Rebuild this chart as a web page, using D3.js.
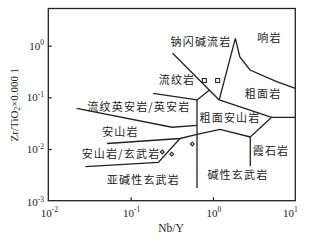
<!DOCTYPE html>
<html>
<head>
<meta charset="utf-8">
<script src="https://cdn.jsdelivr.net/npm/d3@7"></script>
<style>
  body { margin: 0; background: #fff; }
  svg { display: block; }
</style>
</head>
<body>
<div id="chart"></div>
<script>
// Nb/Y vs Zr/TiO2 classification (Winchester & Floyd)
const xTicks = [0.01, 0.1, 1, 10];
const yTicks = [0.001, 0.01, 0.1, 1];

// field boundaries, [Nb/Y, Zr/TiO2*0.0001]
const lineRhyolite = [[0.324, 0.713], [1.19, 0.089]];
const lineComendite = [[1.19, 0.089], [1.87, 1.39], [2.12, 0.604], [2.82, 0.339], [5.94, 0.201], [10, 0.150]];
const lineRhyodacite = [[0.908, 0.139], [0.640, 0.089], [0.640, 0.00176]];
const lineRhyoTop = [[0.188, 0.120], [0.640, 0.089]];
const lineAndesiteTop = [[0.0221, 0.0614], [0.318, 0.0264], [0.640, 0.0288]];
const lineTrachyte = [[1.19, 0.089], [5.16, 0.0411], [10, 0.0411]];
const lineFoidite = [[5.16, 0.0411], [2.84, 0.0171], [2.84, 0.0047]];
const lineBasaltTop = [[0.0517, 0.0128], [0.398, 0.0160], [0.658, 0.0195], [1.22, 0.0239], [2.84, 0.0171]];
const lineBasaltLow = [[0.0283, 0.00455], [0.217, 0.00553], [0.398, 0.0160]];
const boundaries = [lineRhyolite, lineComendite, lineRhyodacite, lineRhyoTop, lineAndesiteTop,
                    lineTrachyte, lineFoidite, lineBasaltTop, lineBasaltLow];

// samples
const squareX = [0.785, 1.14];
const squareY = [0.212, 0.212];
const diamondX = [0.561, 0.242, 0.316];
const diamondY = [0.0125, 0.00877, 0.00794];

// field names and where they sit
const fieldNames = ["钠闪碱流岩", "响岩", "流纹岩", "粗面岩", "流纹英安岩/英安岩", "粗面安山岩",
                    "安山岩", "安山岩/玄武岩", "霞石岩", "碱性玄武岩", "亚碱性玄武岩"];
const fieldX = [0.716, 4.86, 0.366, 4.06, 0.126, 1.61, 0.0753, 0.0764, 5.07, 2.01, 0.143];
const fieldY = [1.19, 1.39, 0.217, 0.115, 0.0659, 0.0394, 0.0216, 0.0079, 0.00929, 0.00314, 0.00252];

const width = 311, height = 240;
const margin = {left: 48.3, right: 15.7, top: 8.5, bottom: 39.3};
const ink = "#222";
const latin = "'Liberation Serif', 'DejaVu Serif', serif";
const cjk = "'Noto Sans CJK SC', sans-serif";

const svg = d3.select("#chart").append("svg")
    .attr("width", width)
    .attr("height", height);

const x = d3.scaleLog().domain([0.01, 10]).range([margin.left, width - margin.right]);
const y = d3.scaleLog().domain([0.001, Math.pow(10, 0.72)]).range([height - margin.bottom, margin.top]);

// frame
svg.append("rect")
    .attr("x", x.range()[0])
    .attr("y", y.range()[1])
    .attr("width", x.range()[1] - x.range()[0])
    .attr("height", y.range()[0] - y.range()[1])
    .attr("fill", "none")
    .attr("stroke", ink)
    .attr("stroke-width", 1.3);

// inward ticks
let gX = svg.append("g")
    .attr("transform", "translate(0," + y.range()[0] + ")")
    .call(d3.axisBottom(x).tickValues(xTicks.slice(1, -1)).tickSizeInner(-3.5).tickSizeOuter(0).tickFormat(""));
gX.select(".domain").remove();
gX.selectAll("line").attr("stroke", ink).attr("stroke-width", 1.2);

let gY = svg.append("g")
    .attr("transform", "translate(" + x.range()[0] + ",0)")
    .call(d3.axisLeft(y).tickValues(yTicks.slice(1)).tickSizeInner(-3.5).tickSizeOuter(0).tickFormat(""));
gY.select(".domain").remove();
gY.selectAll("line").attr("stroke", ink).attr("stroke-width", 1.2);

// power-of-ten labels
function powLabel(sel, v) {
    let e = Math.round(Math.log10(v));
    sel.append("tspan").text("10");
    sel.append("tspan").attr("dy", -4.5).attr("font-size", 7.5).text(e);
}

xTicks.forEach((v, i) => {
    let t = svg.append("text")
        .attr("x", x(v) + (i == xTicks.length - 1 ? -5 : 1))
        .attr("y", 216.5)
        .attr("text-anchor", "middle")
        .attr("font-family", latin)
        .attr("font-size", 11)
        .attr("fill", ink);
    powLabel(t, v);
});

yTicks.forEach((v) => {
    let t = svg.append("text")
        .attr("x", 44)
        .attr("y", y(v) + 4 + (v == 0.001 ? 1.5 : 0))
        .attr("text-anchor", "end")
        .attr("font-family", latin)
        .attr("font-size", 11)
        .attr("fill", ink);
    powLabel(t, v);
});

// axis titles
svg.append("text")
    .attr("x", 171)
    .attr("y", 232)
    .attr("text-anchor", "middle")
    .attr("font-family", latin)
    .attr("font-size", 11.5)
    .attr("fill", ink)
    .text("Nb/Y");

let yt = svg.append("text")
    .attr("transform", "translate(17.5,104.5) rotate(-90)")
    .attr("text-anchor", "middle")
    .attr("font-family", latin)
    .attr("font-size", 11)
    .attr("fill", ink);
yt.append("tspan").text("Zr/TiO");
yt.append("tspan").attr("font-size", 7.5).attr("dy", 2).text("2");
yt.append("tspan").attr("dy", -2).text("×0.000 1");

// boundaries
let line = d3.line().x(d => x(d[0])).y(d => y(d[1]));
svg.append("g").selectAll("path")
    .data(boundaries)
    .join("path")
    .attr("d", line)
    .attr("fill", "none")
    .attr("stroke", ink)
    .attr("stroke-width", 1.3);

// samples
svg.append("g").selectAll("path")
    .data(squareX)
    .join("path")
    .attr("transform", (d, i) => "translate(" + x(d) + "," + y(squareY[i]) + ")")
    .attr("d", d3.symbol(d3.symbolSquare, 16))
    .attr("fill", "#fff")
    .attr("stroke", ink)
    .attr("stroke-width", 1.1);

svg.append("g").selectAll("path")
    .data(diamondX)
    .join("path")
    .attr("transform", (d, i) => "translate(" + x(d) + "," + y(diamondY[i]) + ") rotate(45)")
    .attr("d", d3.symbol(d3.symbolSquare, 7))
    .attr("fill", "#fff")
    .attr("stroke", ink)
    .attr("stroke-width", 1.1);

// field names
svg.append("g").selectAll("text")
    .data(fieldNames)
    .join("text")
    .attr("x", (d, i) => x(fieldX[i]))
    .attr("y", (d, i) => y(fieldY[i]))
    .attr("dy", "0.36em")
    .attr("text-anchor", "middle")
    .attr("font-family", cjk)
    .attr("font-size", 11)
    .attr("letter-spacing", 1.2)
    .attr("fill", ink)
    .text(d => d);
</script>
</body>
</html>
